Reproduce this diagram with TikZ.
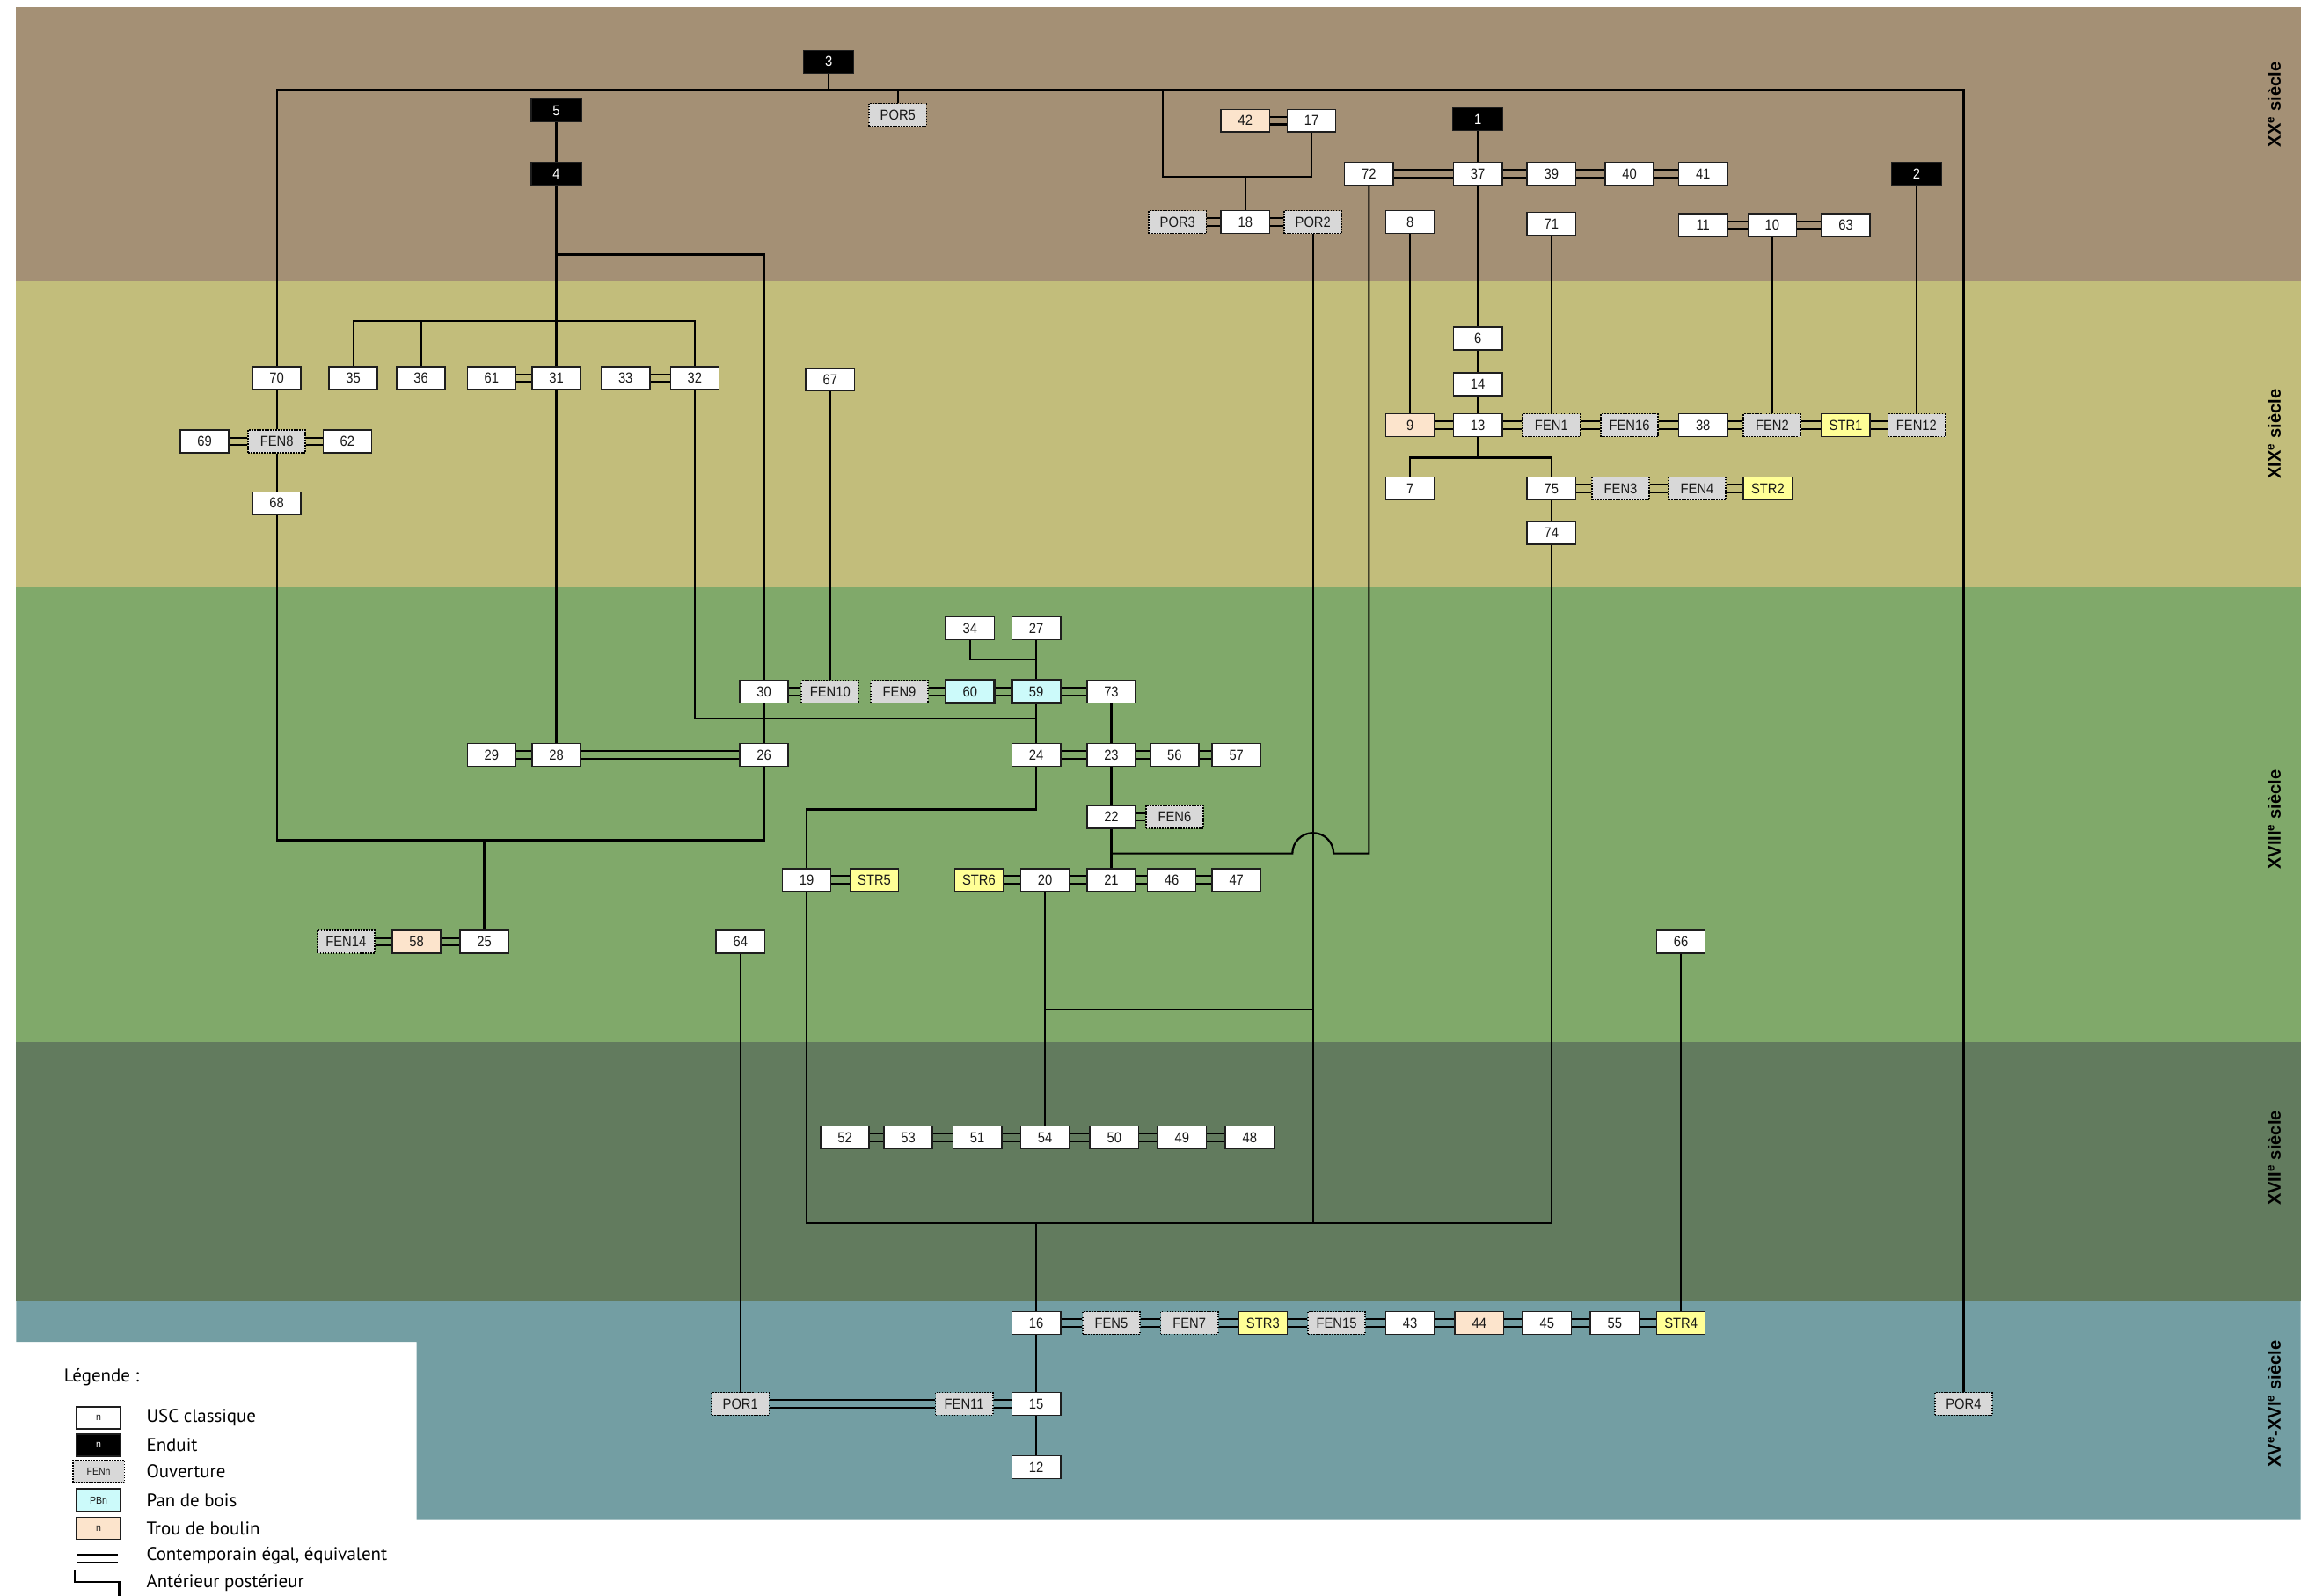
\documentclass[tikz,border=0pt]{standalone}
\usepackage{fontspec}
\setmainfont{Liberation Sans}
\newfontfamily\boxfont[FakeStretch=0.9]{Liberation Sans}
\newfontfamily\legendfont{PT Sans}
\usepackage{tikz}

\begin{document}
\begin{tikzpicture}[x=1pt,y=1pt,yscale=-1,xscale=1,
  usc/.style={draw={rgb, 255:red, 30; green, 30; blue, 30 }, fill=white, line width=0.9pt, minimum width=33, minimum height=15.5, inner sep=0pt, font=\boxfont\fontsize{9.8}{10}\selectfont, text={rgb, 255:red, 25; green, 25; blue, 25 }},
  enduit/.style={usc, fill=black, text=white, minimum width=34},
  ouv/.style={usc, fill={rgb, 255:red, 216; green, 216; blue, 216 }, draw=black, dash pattern={on 1pt off 0.8pt}, minimum width=39},
  pan/.style={usc, fill={rgb, 255:red, 204; green, 250; blue, 250 }, line width=1.4pt},
  trou/.style={usc, fill={rgb, 255:red, 252; green, 228; blue, 204 }},
  strb/.style={usc, fill={rgb, 255:red, 255; green, 255; blue, 150 }},
  lien/.style={line width=1.3pt},
  egal/.style={line width=1.3pt},
  siecle/.style={rotate=90, font=\bfseries\fontsize{12}{14}\selectfont},
  leg/.style={anchor=west, font=\legendfont\fontsize{12.5}{14}\selectfont}]
\useasboundingbox (0,0) rectangle (1568,1084);

%Shape: Rectangle [bands]
\fill [color={rgb, 255:red, 164; green, 144; blue, 117 }] (11,5) rectangle (1563,191);
\fill [color={rgb, 255:red, 194; green, 189; blue, 123 }] (11,191) rectangle (1563,399);
\fill [color={rgb, 255:red, 128; green, 169; blue, 106 }] (11,399) rectangle (1563,708);
\fill [color={rgb, 255:red, 98; green, 123; blue, 94 }] (11,708) rectangle (1563,884);
\fill [color={rgb, 255:red, 115; green, 158; blue, 163 }] (11,884) -- (1563,884) -- (1563,1033) -- (283,1033) -- (283,912) -- (11,912) -- cycle;

% Text Node
\node [siecle] (xx) at (1545,71) {XX\textsuperscript{e} siècle};
\node [siecle] (xix) at (1545,295) {XIX\textsuperscript{e} siècle};
\node [siecle] (xviii) at (1545,557) {XVIII\textsuperscript{e} siècle};
\node [siecle] (xvii) at (1545,787) {XVII\textsuperscript{e} siècle};
\node [siecle] (xvxvi) at (1545,954) {XV\textsuperscript{e}-XVI\textsuperscript{e} siècle};

%Shape: Boxes [XX]
\node [enduit] (e3) at (563,42) {3};
\node [ouv] (por5) at (610,78) {POR5};
\node [enduit] (e5) at (378,75) {5};
\node [enduit] (e4) at (378,118) {4};
\node [trou] (t42) at (846,82) {42};
\node [usc] (u17) at (891,82) {17};
\node [enduit] (e1) at (1004,81) {1};
\node [usc] (u72) at (930,118) {72};
\node [usc] (u37) at (1004,118) {37};
\node [usc] (u39) at (1054,118) {39};
\node [usc] (u40) at (1107,118) {40};
\node [usc] (u41) at (1157,118) {41};
\node [enduit] (e2) at (1302,118) {2};
\node [ouv] (por3) at (800,151) {POR3};
\node [usc] (u18) at (846,151) {18};
\node [ouv] (por2) at (892,151) {POR2};
\node [usc] (u8) at (958,151) {8};
\node [usc] (u71) at (1054,152) {71};
\node [usc] (u11) at (1157,153) {11};
\node [usc] (u10) at (1204,153) {10};
\node [usc] (u63) at (1254,153) {63};

%Shape: Boxes [XIX]
\node [usc] (u70) at (188,257) {70};
\node [usc] (u35) at (240,257) {35};
\node [usc] (u36) at (286,257) {36};
\node [usc] (u61) at (334,257) {61};
\node [usc] (u31) at (378,257) {31};
\node [usc] (u33) at (425,257) {33};
\node [usc] (u32) at (472,257) {32};
\node [usc] (u67) at (564,258) {67};
\node [usc] (u69) at (139,300) {69};
\node [ouv] (fen8) at (188,300) {FEN8};
\node [usc] (u62) at (236,300) {62};
\node [usc] (u68) at (188,342) {68};
\node [usc] (u6) at (1004,230) {6};
\node [usc] (u14) at (1004,261) {14};
\node [trou] (t9) at (958,289) {9};
\node [usc] (u13) at (1004,289) {13};
\node [ouv] (fen1) at (1054,289) {FEN1};
\node [ouv] (fen16) at (1107,289) {FEN16};
\node [usc] (u38) at (1157,289) {38};
\node [ouv] (fen2) at (1204,289) {FEN2};
\node [strb] (str1) at (1254,289) {STR1};
\node [ouv] (fen12) at (1302,289) {FEN12};
\node [usc] (u7) at (958,332) {7};
\node [usc] (u75) at (1054,332) {75};
\node [ouv] (fen3) at (1101,332) {FEN3};
\node [ouv] (fen4) at (1153,332) {FEN4};
\node [strb] (str2) at (1201,332) {STR2};
\node [usc] (u74) at (1054,362) {74};

%Shape: Boxes [XVIII]
\node [usc] (u34) at (659,427) {34};
\node [usc] (u27) at (704,427) {27};
\node [usc] (u30) at (519,470) {30};
\node [ouv] (fen10) at (564,470) {FEN10};
\node [ouv] (fen9) at (611,470) {FEN9};
\node [pan] (pb60) at (659,470) {60};
\node [pan] (pb59) at (704,470) {59};
\node [usc] (u73) at (755,470) {73};
\node [usc] (u29) at (334,513) {29};
\node [usc] (u28) at (378,513) {28};
\node [usc] (u26) at (519,513) {26};
\node [usc] (u24) at (704,513) {24};
\node [usc] (u23) at (755,513) {23};
\node [usc] (u56) at (798,513) {56};
\node [usc] (u57) at (840,513) {57};
\node [usc] (u22) at (755,555) {22};
\node [ouv] (fen6) at (798,555) {FEN6};
\node [usc] (u19) at (548,598) {19};
\node [strb] (str5) at (594,598) {STR5};
\node [strb] (str6) at (665,598) {STR6};
\node [usc] (u20) at (710,598) {20};
\node [usc] (u21) at (755,598) {21};
\node [usc] (u46) at (796,598) {46};
\node [usc] (u47) at (840,598) {47};
\node [ouv] (fen14) at (235,640) {FEN14};
\node [trou] (t58) at (283,640) {58};
\node [usc] (u25) at (329,640) {25};
\node [usc] (u64) at (503,640) {64};
\node [usc] (u66) at (1142,640) {66};

%Shape: Boxes [XVII]
\node [usc] (u52) at (574,773) {52};
\node [usc] (u53) at (617,773) {53};
\node [usc] (u51) at (664,773) {51};
\node [usc] (u54) at (710,773) {54};
\node [usc] (u50) at (757,773) {50};
\node [usc] (u49) at (803,773) {49};
\node [usc] (u48) at (849,773) {48};

%Shape: Boxes [XV-XVI]
\node [usc] (u16) at (704,899) {16};
\node [ouv] (fen5) at (755,899) {FEN5};
\node [ouv] (fen7) at (808,899) {FEN7};
\node [strb] (str3) at (858,899) {STR3};
\node [ouv] (fen15) at (908,899) {FEN15};
\node [usc] (u43) at (958,899) {43};
\node [trou] (t44) at (1005,899) {44};
\node [usc] (u45) at (1051,899) {45};
\node [usc] (u55) at (1097,899) {55};
\node [strb] (str4) at (1142,899) {STR4};
\node [ouv] (por1) at (503,954) {POR1};
\node [ouv] (fen11) at (655,954) {FEN11};
\node [usc] (u15) at (704,954) {15};
\node [usc] (u12) at (704,997) {12};
\node [ouv] (por4) at (1334,954) {POR4};

%Straight Lines [contemporains]
\foreach \a/\b in {t42/u17, u72/u37, u37/u39, u39/u40, u40/u41, por3/u18, u18/por2, u11/u10, u10/u63, u61/u31, u33/u32, u69/fen8, fen8/u62, t9/u13, u13/fen1, fen1/fen16, fen16/u38, u38/fen2, fen2/str1, str1/fen12, u75/fen3, fen3/fen4, fen4/str2, u30/fen10, fen9/pb60, pb60/pb59, pb59/u73, u29/u28, u28/u26, u24/u23, u23/u56, u56/u57, u22/fen6, u19/str5, str6/u20, u20/u21, u21/u46, u46/u47, fen14/t58, t58/u25, u52/u53, u53/u51, u51/u54, u54/u50, u50/u49, u49/u48, u16/fen5, fen5/fen7, fen7/str3, str3/fen15, fen15/u43, u43/t44, t44/u45, u45/u55, u55/str4, por1/fen11, fen11/u15}
  \draw [egal] ([yshift=2.6pt]\a.east) -- ([yshift=2.6pt]\b.west) ([yshift=-2.6pt]\a.east) -- ([yshift=-2.6pt]\b.west);

%Straight Lines [anterieur / posterieur]
\coordinate (bar) at (563,61);
\coordinate (j18) at (790,120);
\coordinate (j4) at (378,173);
\coordinate (j31) at (378,218);
\coordinate (j13) at (1004,311);
\coordinate (j59) at (704,448);
\coordinate (j24) at (704,488);
\coordinate (j19) at (548,550);
\coordinate (j25) at (329,571);
\coordinate (j21) at (755,580);
\coordinate (hop) at (878,580);
\coordinate (j20) at (710,686);
\coordinate (jb) at (1054,831);
\draw [lien] (e3) -- (bar);
\draw [lien] (u70.north) |- (por4.north |- bar) -- (por4.north);
\draw [lien] (por5.north) -- (por5.north |- bar);
\draw [lien] (j18 |- bar) -- (j18) -| (u17.south);
\draw [lien] (u18.north) -- (u18.north |- j18);
\draw [lien] (e5) -- (e4);
\draw [lien] (e4) -- (u31);
\draw [lien] (j4) -| (u30.north);
\draw [lien] (u35.north) |- (u32.north |- j31) -- (u32.north);
\draw [lien] (u36.north) -- (u36.north |- j31);
\draw [lien] (u31) -- (u28);
\draw [lien] (u32.south) |- (j24);
\draw [lien] (u30) -- (u26);
\draw [lien] (u67) -- (fen10);
\draw [lien] (u34.south) |- (j59);
\draw [lien] (u27) -- (pb59);
\draw [lien] (pb59) -- (u24);
\draw [lien] (u73) -- (u23);
\draw [lien] (u23) -- (u22);
\draw [lien] (u22) -- (u21);
\draw [lien] (j21) -- (hop) arc[start angle=180, end angle=360, radius=14] -| (u72.south);
\draw [lien] (u24.south) |- (j19) -- (u19.north);
\draw [lien] (u19.south) |- (jb) -- (u74.south);
\draw [lien] (por2.south) -- (por2.south |- jb);
\draw [lien] (u16.north) -- (u16.north |- jb);
\draw [lien] (u20) -- (u54);
\draw [lien] (j20) -- (j20 -| por2);
\draw [lien] (u68.south) |- (u26.south |- j25) -- (u26.south);
\draw [lien] (u25.north) -- (j25);
\draw [lien] (u70) -- (fen8);
\draw [lien] (fen8) -- (u68);
\draw [lien] (e1) -- (u37);
\draw [lien] (u37) -- (u6);
\draw [lien] (u6) -- (u14);
\draw [lien] (u14) -- (u13);
\draw [lien] (u8) -- (t9);
\draw [lien] (u71) -- (fen1);
\draw [lien] (u10) -- (fen2);
\draw [lien] (e2) -- (fen12);
\draw [lien] (u13.south) -- (j13);
\draw [lien] (u7.north) |- (u75.north |- j13) -- (u75.north);
\draw [lien] (u75) -- (u74);
\draw [lien] (u64) -- (por1);
\draw [lien] (u66) -- (str4);
\draw [lien] (u16) -- (u15);
\draw [lien] (u15) -- (u12);

% Text Node [legende]
\node [leg] (legende) at (40,936) {Légende :};
\node [usc, minimum width=30, minimum height=15, font=\boxfont\fontsize{7}{8}\selectfont] (lusc) at (67,963.5) {n};
\node [enduit, minimum width=30, minimum height=15, font=\boxfont\fontsize{7}{8}\selectfont] (lend) at (67,982) {n};
\node [ouv, minimum width=35, minimum height=15, font=\boxfont\fontsize{7}{8}\selectfont] (louv) at (67,1000) {FENn};
\node [pan, minimum width=30, minimum height=15, font=\boxfont\fontsize{7}{8}\selectfont] (lpan) at (67,1019.5) {PBn};
\node [trou, minimum width=30, minimum height=15, font=\boxfont\fontsize{7}{8}\selectfont] (ltrou) at (67,1038.5) {n};
\node [leg] (tusc) at (96,963.5) {USC classique};
\node [leg] (tend) at (96,982) {Enduit};
\node [leg] (touv) at (96,1000) {Ouverture};
\node [leg] (tpan) at (96,1019.5) {Pan de bois};
\node [leg] (ttrou) at (96,1038.5) {Trou de boulin};
\node [leg] (tegal) at (96,1057) {Contemporain égal, équivalent};
\node [leg] (tant) at (96,1075.5) {Antérieur postérieur};
\draw [egal] (52,1056.5) -- (80,1056.5) (52,1062) -- (80,1062);
\draw [lien] (51,1067) -- (51,1075) -- (81,1075) -- (81,1086);

\end{tikzpicture}
\end{document}
